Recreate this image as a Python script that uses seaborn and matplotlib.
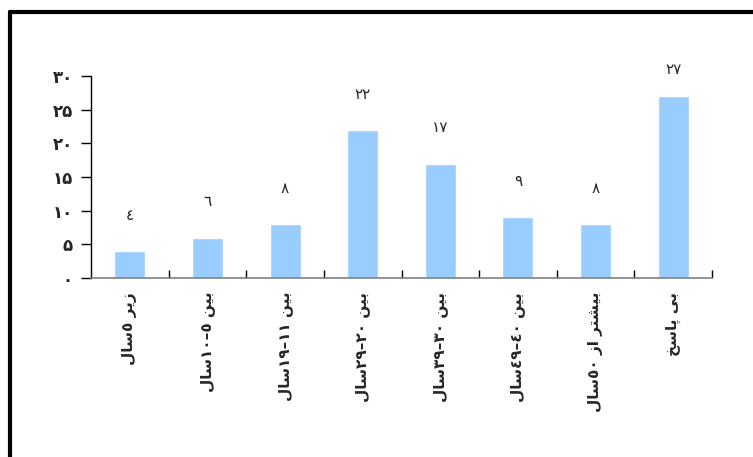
import re
import seaborn as sns
import pandas as pd
import matplotlib.pyplot as plt
from matplotlib.lines import Line2D
from matplotlib.ticker import FixedLocator

categories = ["زیر ٥سال", "بین ٥–١٠سال", "بین ١١–١٩سال", "بین ٢٠–٢٩سال",
              "بین ٣٠–٣٩سال", "بین ٤٠–٤٩سال", "بیشتر از ٥٠سال", "بی پاسخ"]
counts = [4, 6, 8, 22, 17, 9, 8, 27]
value_labels = ["٤", "٦", "٨", "٢٢", "١٧", "٩", "٨", "٢٧"]
y_ticks = [0, 5, 10, 15, 20, 25, 30]
y_tick_labels = ["۰", "۵", "۱۰", "۱۵", "۲۰", "۲۵", "۳۰"]

# contextual forms: isolated, final, initial, medial
forms = {
    'ا': ('\uFE8D', '\uFE8E', None, None),
    'ر': ('\uFEAD', '\uFEAE', None, None),
    'ز': ('\uFEAF', '\uFEB0', None, None),
    'ب': ('\uFE8F', '\uFE90', '\uFE91', '\uFE92'),
    'پ': ('\uFB56', '\uFB57', '\uFB58', '\uFB59'),
    'ت': ('\uFE95', '\uFE96', '\uFE97', '\uFE98'),
    'خ': ('\uFEA5', '\uFEA6', '\uFEA7', '\uFEA8'),
    'س': ('\uFEB1', '\uFEB2', '\uFEB3', '\uFEB4'),
    'ش': ('\uFEB5', '\uFEB6', '\uFEB7', '\uFEB8'),
    'ل': ('\uFEDD', '\uFEDE', '\uFEDF', '\uFEE0'),
    'ن': ('\uFEE5', '\uFEE6', '\uFEE7', '\uFEE8'),
    'ی': ('\uFBFC', '\uFBFD', '\uFBFE', '\uFBFF'),
}


def shape(s):
    out = []
    for i, ch in enumerate(s):
        if ch not in forms:
            out.append(ch)
            continue
        f = forms[ch]
        prev = i > 0 and s[i - 1] in forms and forms[s[i - 1]][2] is not None
        nxt = f[2] is not None and i + 1 < len(s) and s[i + 1] in forms
        if prev and nxt:
            out.append(f[3])
        elif prev:
            out.append(f[1])
        elif nxt:
            out.append(f[2])
        else:
            out.append(f[0])
    return ''.join(out)


def to_visual(s):
    runs = re.findall(r'\d+|\D+', shape(s))
    return ''.join(r if r[0].isdigit() else r[::-1] for r in reversed(runs))


df = pd.DataFrame({'group': categories, 'count': counts})

sns.set_style('white')
plt.rcParams['font.family'] = ['DejaVu Sans']

fig = plt.figure(figsize=(7.53, 4.57), dpi=100)
ax = fig.add_axes([91 / 753, (457 - 278) / 457, 621 / 753, 202 / 457])

sns.barplot(data=df, x='group', y='count', color='#99CCFF', saturation=1,
            width=0.4, ax=ax)

ax.set_xlim(-0.5, len(categories) - 0.5)
ax.set_ylim(0, 30)
ax.set_xlabel(None)
ax.set_ylabel(None)

ax.set_yticks(y_ticks)
ax.set_yticklabels(y_tick_labels, fontsize=12, fontweight='bold')
ax.tick_params(axis='y', direction='out', length=7, width=1, color='black',
               left=True, pad=6)

ax.set_xticks(range(len(categories)))
ax.set_xticklabels([to_visual(c) for c in categories], rotation=90,
                   fontsize=11, fontweight='bold', va='top')
ax.tick_params(axis='x', length=0, pad=10)
ax.xaxis.set_minor_locator(FixedLocator([i + 0.5 for i in range(len(categories))]))
ax.tick_params(axis='x', which='minor', direction='in', length=6, width=1,
               color='black', bottom=True)

for s in ['top', 'right']:
    ax.spines[s].set_visible(False)
ax.spines['left'].set_color('black')
ax.spines['left'].set_linewidth(1)
ax.spines['bottom'].set_color('#808080')
ax.spines['bottom'].set_linewidth(1.2)

for i, (v, lab) in enumerate(zip(counts, value_labels)):
    ax.text(i, min(v + 5.3, 30.9), lab, ha='center', va='center',
            fontsize=11, clip_on=False)

# outer frame
fig.add_artist(Line2D([10 / 753, 10 / 753], [-0.1, 445 / 457], color='black',
                      linewidth=3, transform=fig.transFigure))
fig.add_artist(Line2D([10 / 753, 1.1], [445 / 457, 445 / 457], color='black',
                      linewidth=3, transform=fig.transFigure))

fig.savefig('out.png', dpi=100)
